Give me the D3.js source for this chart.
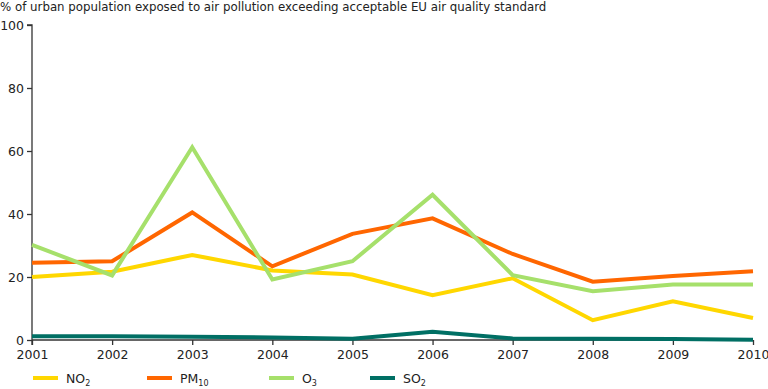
<!DOCTYPE html>
<html>
<head>
<meta charset="utf-8">
<script src="https://cdn.jsdelivr.net/npm/d3@7"></script>
<style>
  body { margin: 0; background: #fff; }
  svg text { font-family: "DejaVu Sans", Verdana, sans-serif; fill: #222; }
</style>
</head>
<body>
<svg id="chart"></svg>
<script>
const width = 768;
const height = 389;

const years = [2001, 2002, 2003, 2004, 2005, 2006, 2007, 2008, 2009, 2010];
const no2 = [20, 21.7, 27, 22.1, 20.8, 14.2, 19.6, 6.3, 12.3, 7];
const pm10 = [24.5, 25, 40.5, 23.4, 33.7, 38.6, 27.3, 18.5, 20.3, 21.8];
const o3 = [30.2, 20.5, 61.2, 19.2, 25, 46.1, 20.6, 15.5, 17.6, 17.6];
const so2 = [1.2, 1.2, 1.0, 0.8, 0.4, 2.6, 0.5, 0.4, 0.3, 0.1];
const yTicks = [0, 20, 40, 60, 80, 100];

const series = [
  { name: "NO", sub: "2", values: no2, color: "#ffd700" },
  { name: "PM", sub: "10", values: pm10, color: "#ff6600" },
  { name: "O", sub: "3", values: o3, color: "#a6e06b" },
  { name: "SO", sub: "2", values: so2, color: "#006f64" },
];

const svg = d3.select("#chart").attr("width", width).attr("height", height);

const x = d3.scaleLinear().domain([2001, 2010]).range([32, 753]);
const y = d3.scaleLinear().domain([0, 100]).range([340, 25]);

svg.append("text")
  .attr("x", 0)
  .attr("y", 11)
  .attr("font-size", 11.8)
  .text("% of urban population exposed to air pollution exceeding acceptable EU air quality standard");

// y axis
const yAxis = svg.append("g")
  .attr("transform", "translate(32,0)")
  .call(d3.axisLeft(y).tickValues(yTicks).tickSize(5).tickPadding(3));
yAxis.select(".domain").attr("d", "M-5,25H0V345").attr("stroke", "#333").attr("stroke-width", 1.3);
yAxis.selectAll(".tick line").attr("stroke", "#333").attr("stroke-width", 1.3);
yAxis.selectAll(".tick text").attr("font-size", 12.5).attr("font-family", "DejaVu Sans, sans-serif").attr("fill", "#222");

// x axis
const xAxis = svg.append("g")
  .attr("transform", "translate(0,340)")
  .call(d3.axisBottom(x).tickValues(years).tickFormat(d3.format("d")).tickSize(5).tickPadding(5));
xAxis.select(".domain").attr("d", "M32,0H753").attr("stroke", "#333").attr("stroke-width", 1.3);
xAxis.selectAll(".tick line").attr("stroke", "#333").attr("stroke-width", 1.3);
xAxis.selectAll(".tick text").attr("font-size", 12.5).attr("font-family", "DejaVu Sans, sans-serif").attr("fill", "#222");

const line = d3.line()
  .x((d, i) => x(years[i]))
  .y((d) => y(d));

svg.append("g").attr("class", "lines")
  .selectAll("path")
  .data(series)
  .enter()
  .append("path")
  .attr("d", (s) => line(s.values))
  .attr("fill", "none")
  .attr("stroke", (s) => s.color)
  .attr("stroke-width", 4)
  .attr("stroke-linejoin", "miter");

// legend
const legendX = [33, 147, 269, 370];
const legend = svg.append("g").attr("class", "legend")
  .selectAll("g")
  .data(series)
  .enter()
  .append("g")
  .attr("transform", (s, i) => `translate(${legendX[i]},378)`);

legend.append("line")
  .attr("x1", 0).attr("x2", 25)
  .attr("stroke", (s) => s.color)
  .attr("stroke-width", 4);

const lt = legend.append("text")
  .attr("x", 33)
  .attr("y", 5)
  .attr("font-size", 12.5);
lt.append("tspan").text((s) => s.name);
lt.append("tspan").attr("font-size", 8).attr("dy", 3).text((s) => s.sub);
</script>
</body>
</html>
